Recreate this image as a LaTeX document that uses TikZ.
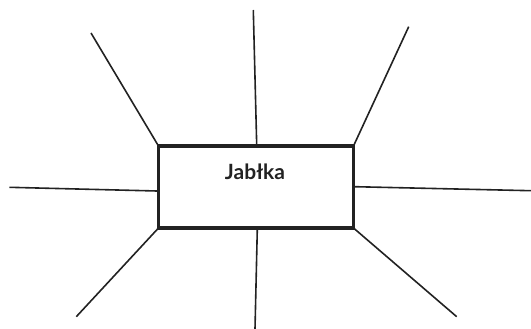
\documentclass[tikz,border=0pt]{standalone}
\usepackage{fontspec}
\setmainfont{Lato}
\definecolor{ink}{HTML}{222222}
\begin{document}
\begin{tikzpicture}[x=1pt,y=-1pt,
  spoke/.style={draw=ink,line width=1.6pt},
  frame/.style={draw=ink,line width=3.8pt,minimum width=195pt,minimum height=82pt,inner sep=0pt,outer sep=0pt},
  title/.style={font=\bfseries\fontsize{21}{25}\selectfont,text=ink,inner sep=0pt}]
\useasboundingbox (0,0) rectangle (531,329);
\node[frame] (box) at (256,187) {};
\node[title,anchor=base] (t) at (255,179) {Jabłka};
\coordinate (tl) at (91,33);
\coordinate (tm) at (253.3,10);
\coordinate (tr) at (408.7,26.7);
\coordinate (ml) at (9.3,187.3);
\coordinate (mr) at (531,190.7);
\coordinate (bl) at (76.3,316.7);
\coordinate (bm) at (255,329);
\coordinate (br) at (456.7,316.7);
\coordinate (btm) at (256.7,145);
\coordinate (bbm) at (257.3,229);
\coordinate (bml) at (157,191);
\coordinate (bmr) at (355,186.7);
\draw[spoke] (box.north west) -- (tl);
\draw[spoke] (btm) -- (tm);
\draw[spoke] (box.north east) -- (tr);
\draw[spoke] (bml) -- (ml);
\draw[spoke] (bmr) -- (mr);
\draw[spoke] (box.south west) -- (bl);
\draw[spoke] (bbm) -- (bm);
\draw[spoke] (box.south east) -- (br);
\end{tikzpicture}
\end{document}
